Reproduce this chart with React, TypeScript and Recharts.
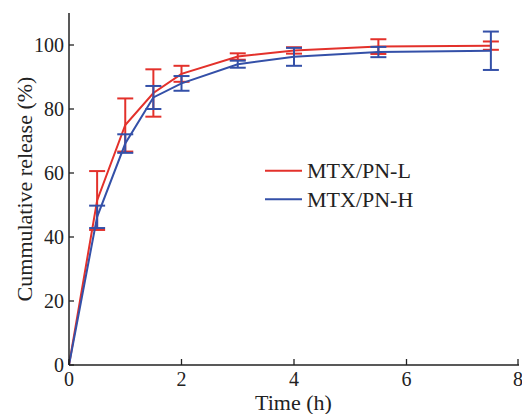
import React from 'react';
import { LineChart, Line, XAxis, YAxis, ErrorBar, Legend } from 'recharts';

const times = [0, 0.5, 1, 1.5, 2, 3, 4, 5.5, 7.5];
const pnL = [0, 51.4, 75, 85, 91, 96.4, 98.3, 99.5, 99.8];
const pnLErr = [null, 9.2, 8.3, 7.4, 2.5, 1.0, 1.0, 2.3, 1.3];
const pnH = [0, 46.3, 69.2, 83.6, 88, 94, 96.3, 97.8, 98.2];
const pnHErr = [null, 3.5, 2.9, 3.6, 2.3, 1.1, 2.8, 1.6, 6.0];
const xTicks = [0, 2, 4, 6, 8];
const yTicks = [0, 20, 40, 60, 80, 100];
const seriesNames = ['MTX/PN-L', 'MTX/PN-H'];

const RED = '#e3312b';
const BLUE = '#3450a8';
const AXIS = '#222222';
const FONT = '"Liberation Serif", "Times New Roman", serif';

const data = times.map((t, i) => ({
  t,
  L: pnL[i],
  Lerr: pnLErr[i],
  H: pnH[i],
  Herr: pnHErr[i],
}));

const XTick = (props: any) => {
  const { x, y, payload } = props;
  return (
    <g>
      <line x1={x} y1={y} x2={x} y2={y - 6} stroke={AXIS} strokeWidth={1.3} />
      <text x={x} y={y + 21} textAnchor="middle" fontFamily={FONT} fontSize={20} fill={AXIS}>
        {payload.value}
      </text>
    </g>
  );
};

const YTick = (props: any) => {
  const { x, y, payload } = props;
  return (
    <g>
      <line x1={x + 5} y1={y} x2={x + 10} y2={y} stroke={AXIS} strokeWidth={1.3} />
      <text x={x} y={y + 7} textAnchor="end" fontFamily={FONT} fontSize={20} fill={AXIS}>
        {payload.value}
      </text>
    </g>
  );
};

const LegendContent = () => (
  <svg width={180} height={60}>
    <line x1={5} y1={15.7} x2={42} y2={15.7} stroke={RED} strokeWidth={2} />
    <text x={47} y={23} fontFamily={FONT} fontSize={22} fill={AXIS}>{seriesNames[0]}</text>
    <line x1={5} y1={44.3} x2={42} y2={44.3} stroke={BLUE} strokeWidth={2} />
    <text x={47} y={51.6} fontFamily={FONT} fontSize={22} fill={AXIS}>{seriesNames[1]}</text>
  </svg>
);

export default function App() {
  return (
    <div style={{ position: 'absolute', left: 0, top: 0, width: 522, height: 414, background: '#fff' }}>
      <LineChart width={522} height={414} data={data} margin={{ top: 13, right: 3, bottom: 19, left: 0 }}>
        <XAxis
          dataKey="t"
          type="number"
          domain={[0, 8]}
          ticks={xTicks}
          tickLine={false}
          tickSize={0}
          tickMargin={0}
          height={30}
          tick={<XTick />}
          axisLine={{ stroke: AXIS, strokeWidth: 1.5 }}
          label={{
            content: () => (
              <text x={293.5} y={410} textAnchor="middle" fontFamily={FONT} fontSize={22} fill={AXIS}>
                Time (h)
              </text>
            ),
          }}
        />
        <YAxis
          type="number"
          domain={[0, 110]}
          ticks={yTicks}
          width={69}
          tickLine={false}
          tickSize={0}
          tickMargin={5}
          tick={<YTick />}
          axisLine={{ stroke: AXIS, strokeWidth: 1.5 }}
          label={{
            content: () => (
              <text
                x={24}
                y={189}
                transform="rotate(-90 24 189)"
                textAnchor="middle"
                dominantBaseline="central"
                fontFamily={FONT}
                fontSize={22}
                fill={AXIS}
              >
                Cummulative release (%)
              </text>
            ),
          }}
        />
        <Legend
          layout="vertical"
          align="center"
          verticalAlign="middle"
          content={<LegendContent />}
          wrapperStyle={{ left: 260, top: 155, width: 180, height: 60 }}
        />
        <Line
          type="linear"
          dataKey="L"
          name={seriesNames[0]}
          stroke={RED}
          strokeWidth={2}
          dot={false}
          isAnimationActive={false}
        >
          <ErrorBar dataKey="Lerr" width={8} stroke={RED} strokeWidth={2} direction="y" isAnimationActive={false} />
        </Line>
        <Line
          type="linear"
          dataKey="H"
          name={seriesNames[1]}
          stroke={BLUE}
          strokeWidth={2}
          dot={false}
          isAnimationActive={false}
        >
          <ErrorBar dataKey="Herr" width={8} stroke={BLUE} strokeWidth={2} direction="y" isAnimationActive={false} />
        </Line>
      </LineChart>
    </div>
  );
}
